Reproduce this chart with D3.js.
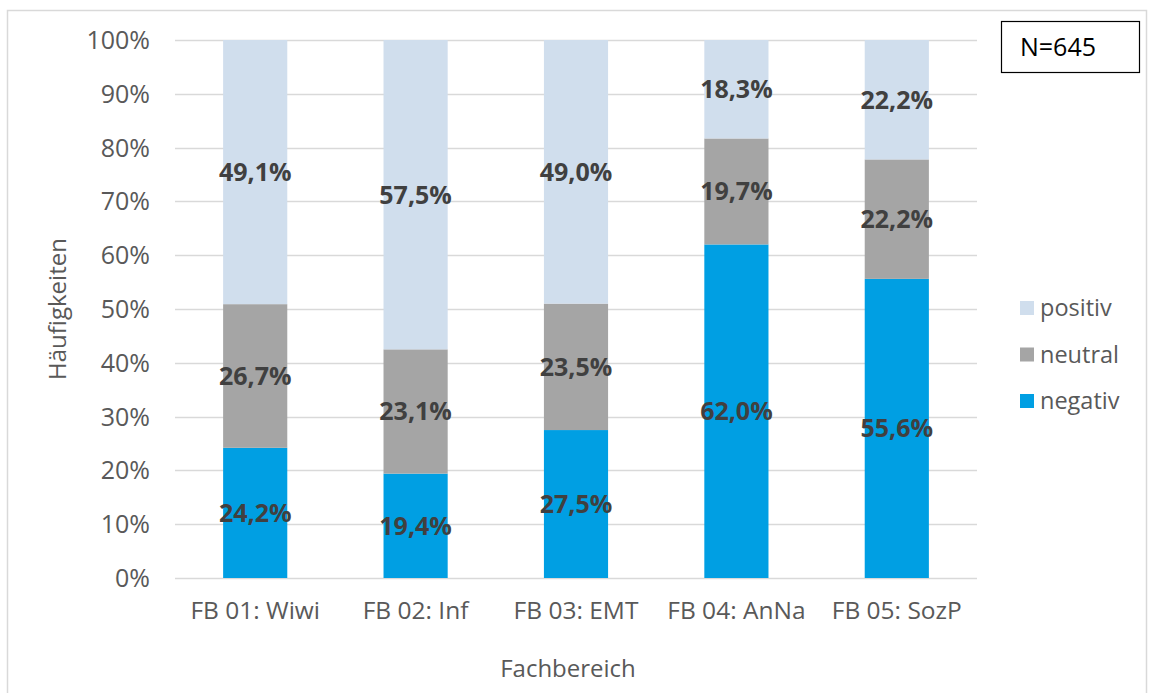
<!DOCTYPE html>
<html>
<head>
<meta charset="utf-8">
<script src="https://cdn.jsdelivr.net/npm/d3@7"></script>
<style>
  body { margin: 0; background: #fff; }
  text { font-family: "Open Sans", "Noto Sans", sans-serif; }
</style>
</head>
<body>
<script>
// data
const categories = ["FB 01: Wiwi", "FB 02: Inf", "FB 03: EMT", "FB 04: AnNa", "FB 05: SozP"];
const negativ = [24.2, 19.4, 27.5, 62.0, 55.6];
const neutral = [26.7, 23.1, 23.5, 19.7, 22.2];
const positiv = [49.1, 57.5, 49.0, 18.3, 22.2];
const seriesNames = ["negativ", "neutral", "positiv"];
const yTicks = [0, 10, 20, 30, 40, 50, 60, 70, 80, 90, 100];

const colors = { negativ: "#009FE3", neutral: "#A5A5A5", positiv: "#D0DEED" };

const W = 1149, H = 693;
const margin = { left: 175, right: 172, top: 40, bottom: 115 };

const svg = d3.select("body").append("svg")
  .attr("width", W).attr("height", H);

// outer chart border
svg.append("rect")
  .attr("x", 7.5).attr("y", 10.5)
  .attr("width", 1139).attr("height", 720)
  .attr("fill", "none").attr("stroke", "#D9D9D9").attr("stroke-width", 1.5);

const x = d3.scaleBand()
  .domain(categories)
  .range([margin.left, W - margin.right])
  .paddingInner(0.6).paddingOuter(0.3);

const y = d3.scaleLinear()
  .domain([0, 100])
  .range([H - margin.bottom, margin.top]);

// gridlines
svg.append("g").selectAll("line")
  .data(yTicks).enter().append("line")
  .attr("x1", margin.left).attr("x2", W - margin.right)
  .attr("y1", d => Math.round(y(d)) + 0.5).attr("y2", d => Math.round(y(d)) + 0.5)
  .attr("stroke", "#D9D9D9").attr("stroke-width", 1.5);

// y tick labels
svg.append("g").selectAll("text")
  .data(yTicks).enter().append("text")
  .attr("x", 150).attr("y", d => y(d))
  .attr("dy", "0.36em")
  .attr("text-anchor", "end")
  .attr("font-size", 25).attr("fill", "#595959")
  .text(d => d + "%");

// stacked data
const rows = categories.map((c, i) => ({ cat: c, negativ: negativ[i], neutral: neutral[i], positiv: positiv[i] }));
const stack = d3.stack().keys(seriesNames)(rows);

const layers = svg.append("g").selectAll("g")
  .data(stack).enter().append("g")
  .attr("fill", d => colors[d.key]);

layers.selectAll("rect")
  .data(d => d).enter().append("rect")
  .attr("x", d => x(d.data.cat))
  .attr("width", x.bandwidth())
  .attr("y", d => y(d[1]))
  .attr("height", d => y(d[0]) - y(d[1]));

// data labels
layers.selectAll("text")
  .data(d => d.map(v => ({ v: v, key: d.key }))).enter().append("text")
  .attr("x", d => x(d.v.data.cat) + x.bandwidth() / 2)
  .attr("y", d => y((d.v[0] + d.v[1]) / 2))
  .attr("dy", "0.36em")
  .attr("text-anchor", "middle")
  .attr("font-size", 25).attr("font-weight", "bold")
  .attr("fill", "#404040")
  .text(d => d.v.data[d.key].toFixed(1).replace(".", ",") + "%");

// x labels
svg.append("g").selectAll("text")
  .data(categories).enter().append("text")
  .attr("x", d => x(d) + x.bandwidth() / 2)
  .attr("y", 610).attr("dy", "0.36em")
  .attr("text-anchor", "middle")
  .attr("font-size", 24.5).attr("fill", "#595959")
  .text(d => d);

// axis titles
svg.append("text")
  .attr("x", 568).attr("y", 668)
  .attr("dy", "0.36em").attr("text-anchor", "middle")
  .attr("font-size", 24).attr("fill", "#595959")
  .text("Fachbereich");

svg.append("text")
  .attr("transform", "translate(57," + y(50) + ") rotate(-90)")
  .attr("dy", "0.36em").attr("text-anchor", "middle")
  .attr("font-size", 24).attr("fill", "#595959")
  .text("Häufigkeiten");

// N box
svg.append("rect")
  .attr("x", 1001.5).attr("y", 21.5).attr("width", 138).attr("height", 51)
  .attr("fill", "#fff").attr("stroke", "#000").attr("stroke-width", 1.2);
svg.append("text")
  .attr("x", 1020).attr("y", 47).attr("dy", "0.36em")
  .attr("font-size", 25).attr("fill", "#000")
  .text("N=645");

// legend
const legendItems = ["positiv", "neutral", "negativ"];
const lg = svg.append("g").selectAll("g")
  .data(legendItems).enter().append("g")
  .attr("transform", (d, i) => "translate(1020," + (308 + i * 46.5) + ")");
lg.append("rect")
  .attr("x", 0).attr("y", -7).attr("width", 14).attr("height", 14)
  .attr("fill", d => colors[d]);
lg.append("text")
  .attr("x", 20).attr("y", 0).attr("dy", "0.36em")
  .attr("font-size", 23.5).attr("fill", "#595959")
  .text(d => d);
</script>
</body>
</html>
